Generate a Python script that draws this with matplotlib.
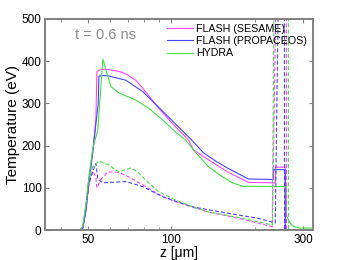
import numpy as np
import matplotlib
matplotlib.use('Agg')
import matplotlib.pyplot as plt
from matplotlib.ticker import FixedLocator, NullFormatter

plt.rcParams['font.family'] = ['Liberation Sans', 'DejaVu Sans']

# ---- data (z in um, T in eV) ----
# solid lines
z_sesame = [35, 46.8, 47.9, 49.2, 50.4, 52.1, 53.4, 53.9, 55.0, 57.1, 59.5, 64.6, 68.5, 74.4,
            78.9, 90.0, 103.7, 115.4, 120.3, 130.7, 159.5, 189.8, 237.3, 237.6, 257.7, 258.0, 325]
T_sesame = [0, 0, 6, 55, 118, 190, 260, 375, 379, 381, 380, 376, 370, 355,
            336, 289, 244, 213, 190, 174, 138, 113, 112, 149, 149, 0, 0]

z_propa = [35, 46.8, 47.9, 49.2, 50.4, 52.1, 53.4, 54.5, 54.8, 57.1, 59.5, 68.5, 78.9,
           90.0, 103.7, 117.4, 130.7, 145.0, 159.5, 189.8, 233.4, 233.7, 257.7, 258.0, 325]
T_propa = [0, 0, 4, 45, 110, 185, 250, 300, 365, 366, 365, 355, 328,
           291, 251, 216, 183, 163, 147, 121, 120, 143, 143, 0, 0]

z_hydra = [35, 46.8, 47.9, 49.2, 50.4, 52.1, 54.3, 56.6, 60.5, 64.6, 74.4, 82.8, 93.1,
           103.7, 112.6, 122.0, 136.2, 150.0, 165.0, 180.6, 259.8, 260.5, 264.2, 270.0, 275.5, 290.0, 325]
T_hydra = [0, 0, 8, 60, 125, 195, 237, 405, 340, 325, 308, 289, 261,
           232, 213, 185, 150, 130, 113, 104, 103, 35, 25, 15, 9, 5, 5]

# dashed lines
zd_sesame = [35, 46.8, 47.9, 49.2, 50.4, 52.1, 53.4, 53.9, 55.7, 59.0, 64.6, 70.2, 78.9,
             93.1, 103.7, 136.2, 180.6, 231.5, 243.3, 259.8, 260.5, 325]
Td_sesame = [0, 0, 6, 55, 110, 140, 125, 100, 120, 138, 137, 126, 107,
             79, 67, 43, 26, 8, 900, 900, 0, 0]

zd_propa = [35, 46.8, 47.9, 49.2, 50.4, 52.1, 53.4, 54.3, 56.6, 60.5, 68.5, 78.9,
            93.1, 119.4, 156.8, 206.0, 237.3, 247.3, 255.6, 256.3, 325]
Td_propa = [0, 0, 4, 50, 110, 140, 158, 120, 112, 113, 115, 103,
            79, 55, 41, 28, 17, 900, 900, 0, 0]

zd_hydra = [35, 46.8, 47.9, 49.2, 50.4, 52.1, 54.8, 59.5, 64.6, 71.4, 75.7, 80.8, 90.0,
            103.7, 119.4, 136.2, 180.6, 231.5, 237.3, 264.2, 265.0, 325]
Td_hydra = [0, 0, 8, 60, 125, 150, 164, 154, 138, 147, 138, 118, 91,
            71, 55, 43, 28, 12, 900, 900, 0, 0]

labels = ['FLASH (SESAME)', 'FLASH (PROPACEOS)', 'HYDRA']
colors = ['#ff44ff', '#4444ff', '#44e044']

x_major = [50, 100, 300]
x_minor = [40, 60, 70, 80, 90, 200]
y_ticks = [0, 100, 200, 300, 400, 500]

fig = plt.figure(figsize=(3.46, 2.60), dpi=100)
ax = fig.add_axes([0.130, 0.115, 0.775, 0.812])

solid = [(z_sesame, T_sesame), (z_propa, T_propa), (z_hydra, T_hydra)]
dashed = [(zd_sesame, Td_sesame), (zd_propa, Td_propa), (zd_hydra, Td_hydra)]

for (z, T), lab, c in zip(solid, labels, colors):
    ax.plot(z, T, color=c, lw=0.8, label=lab)
for (z, T), c in zip(dashed, colors):
    ax.plot(z, T, color=c, lw=0.8, linestyle=(0, (3.5, 2)))

ax.set_xscale('log')
ax.set_xlim(35, 325)
ax.set_ylim(0, 500)
ax.xaxis.set_major_locator(FixedLocator(x_major))
ax.xaxis.set_minor_locator(FixedLocator(x_minor))
ax.xaxis.set_major_formatter(matplotlib.ticker.FixedFormatter([str(v) for v in x_major]))
ax.xaxis.set_minor_formatter(NullFormatter())
ax.set_yticks(y_ticks)

for sp in ax.spines.values():
    sp.set_color('#808080')
    sp.set_linewidth(1.4)
ax.tick_params(which='both', direction='in', top=True, right=True,
               color='#808080', labelsize=8.5, pad=2.5)
ax.tick_params(which='major', length=3)
ax.tick_params(which='minor', length=2)

ax.set_xlabel('z [\u03bcm]', fontsize=10, labelpad=0.5)
ax.set_ylabel('Temperature (eV)', fontsize=11, labelpad=1)

ax.text(0.112, 0.924, 't = 0.6 ns', transform=ax.transAxes, color='#8c8c8c',
        fontsize=10.5, va='center', ha='left')

ax.legend(loc='upper left', bbox_to_anchor=(0.455, 0.978), frameon=False,
          fontsize=7.7, handlelength=2.4, handletextpad=0.35, labelspacing=0.22,
          borderpad=0, borderaxespad=0)

fig.savefig('out.png', dpi=100)
